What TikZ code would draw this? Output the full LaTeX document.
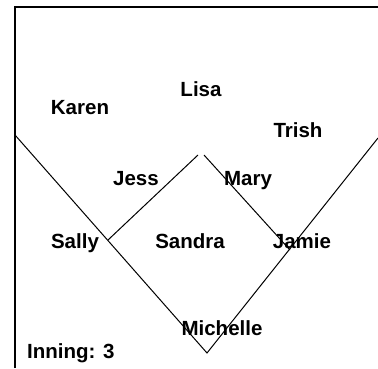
\documentclass[tikz,border=0pt]{standalone}
\usepackage{fontspec}
\setmainfont{Liberation Sans}
\usetikzlibrary{positioning, calc}

\begin{document}
\begin{tikzpicture}[
    x=1pt, y=1pt,
    player/.style={
        inner sep=0pt, anchor=base,
        font=\bfseries\fontsize{20.5}{24}\selectfont, text=black
    },
    field/.style={draw=black, line width=1pt},
    frame/.style={draw=black, line width=2pt}
]
\useasboundingbox (0,0) rectangle (378,368);

% --- Frame ---
\draw[frame] (15,0) -- (15,361) -- (378,361);

% --- Field points ---
\coordinate (leftfoul)  at (15,233);
\coordinate (rightfoul) at (378,230);
\coordinate (home)      at (207,15);
\coordinate (third)     at (108,128);
\coordinate (secondL)   at (198,213);
\coordinate (secondR)   at (204,213);
\coordinate (first)     at (290,118);

% --- Lines ---
\draw[field] (leftfoul) -- (home) -- (rightfoul);
\draw[field] (third) -- (secondL);
\draw[field] (secondR) -- (first);

% --- Players ---
\node[player] (karen)    at (80,254)  {Karen};
\node[player] (lisa)     at (201,272) {Lisa};
\node[player] (trish)    at (298,231) {Trish};
\node[player] (jess)     at (136,183) {Jess};
\node[player] (mary)     at (248,183) {Mary};
\node[player] (sally)    at (75,120)  {Sally};
\node[player] (sandra)   at (190,120) {Sandra};
\node[player] (jamie)    at (302,120) {Jamie};
\node[player] (michelle) at (222,33)  {Michelle};
\node[player, anchor=base west] (inning) at (27,10) {Inning: 3};
\end{tikzpicture}
\end{document}
